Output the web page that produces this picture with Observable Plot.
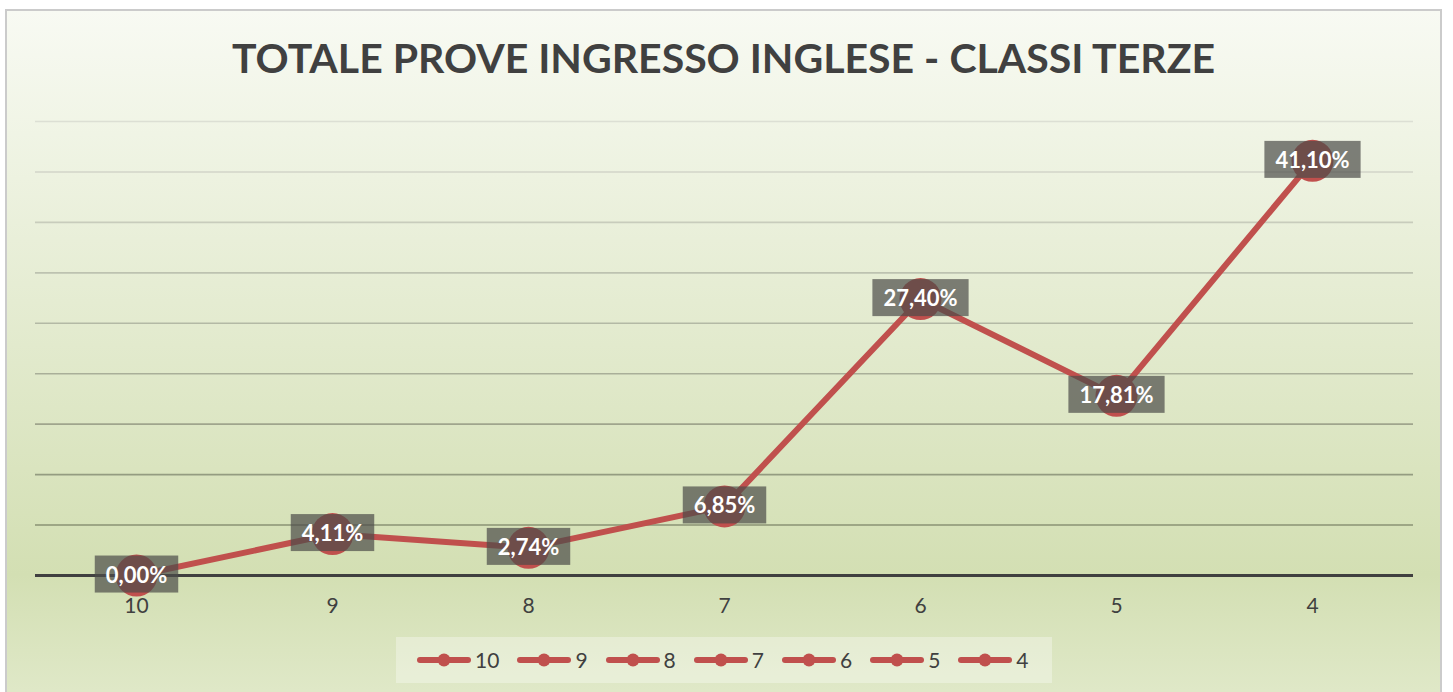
<!DOCTYPE html>
<html>
<head>
<meta charset="utf-8">
<script src="https://cdn.jsdelivr.net/npm/d3@7"></script>
<script src="https://cdn.jsdelivr.net/npm/@observablehq/plot@0.6"></script>
<style>
  body { margin:0; background:#ffffff; width:1453px; height:692px; overflow:hidden; position:relative; font-family:Lato, "Open Sans", sans-serif; }
  #frame { position:absolute; left:5px; top:9px; width:1433px; height:700px; border:2px solid #cbcbcb;
    background:linear-gradient(to bottom, #f8faf3 0%, #d3dfb3 80.5%, #dfe8c7 97%, #e2eacb 100%); }
  #title { position:absolute; left:5px; width:1437px; top:37px; text-align:center; font-weight:700; font-size:41px; line-height:41px; color:#404040; white-space:nowrap; }
  #chart { position:absolute; left:0; top:0; }
  #legend { position:absolute; left:396px; top:637px; width:656px; height:46px; background:rgba(255,255,255,0.32);
    display:flex; align-items:center; padding-left:20px; box-sizing:border-box; }
  .item { display:flex; align-items:center; margin-right:17px; }
  .item svg { display:block; }
  .item span { margin-left:3px; font-size:21px; color:#404040; line-height:22px; }
</style>
</head>
<body>
<div id="frame"></div>
<div id="title"></div>
<div id="chart"></div>
<div id="legend"></div>
<script>
const titleText = "TOTALE PROVE INGRESSO INGLESE - CLASSI TERZE";
const categories = ["10", "9", "8", "7", "6", "5", "4"];
const values = [0.00, 4.11, 2.74, 6.85, 27.40, 17.81, 41.10];
const gridTicks = [5, 10, 15, 20, 25, 30, 35, 40, 45];

const data = categories.map((c, i) => ({cat: c, value: values[i]}));
const fmt = v => v.toFixed(2).replace(".", ",") + "%";

document.getElementById("title").textContent = titleText;

const lineColor = "#c0504d";

const chart = Plot.plot({
  width: 1453,
  height: 692,
  marginTop: 121,
  marginBottom: 117,
  marginLeft: 35,
  marginRight: 40,
  style: {background: "transparent", fontFamily: "Lato, 'Open Sans', sans-serif", overflow: "visible"},
  x: {type: "point", domain: categories, padding: 0.5, align: 0.5, label: null, tickSize: 0, tickPadding: 24},
  y: {domain: [0, 45], axis: null},
  color: {type: "linear", domain: [5, 45], range: ["#8a9275", "#dcdfd4"], legend: false},
  marks: [
    Plot.ruleY(gridTicks, {y: d => d, stroke: d => d, strokeWidth: 1.6}),
    Plot.ruleY([0], {stroke: "#404040", strokeWidth: 3}),
    Plot.axisX({tickSize: 0, tickPadding: 23, fontSize: 21, fill: "#404040", label: null}),
    Plot.line(data, {x: "cat", y: "value", stroke: lineColor, strokeWidth: 6, strokeLinejoin: "round"}),
    Plot.dot(data, {x: "cat", y: "value", r: 21, fill: lineColor}),
    Plot.text(data, {x: "cat", y: "value", text: d => fmt(d.value), fill: "white", fontWeight: "bold", fontSize: 22, className: "lbl"})
  ]
});
document.getElementById("chart").appendChild(chart);

// label backgrounds sized to the rendered text
const ns = "http://www.w3.org/2000/svg";
chart.querySelectorAll("g.lbl text").forEach(t => {
  const b = t.getBBox();
  const r = document.createElementNS(ns, "rect");
  const cy = b.y + b.height / 2;
  r.setAttribute("x", b.x - 11);
  r.setAttribute("width", b.width + 22);
  r.setAttribute("y", cy - 18.5);
  r.setAttribute("height", 37);
  r.setAttribute("fill", "#4b4b48");
  r.setAttribute("fill-opacity", 0.7);
  const tr = t.getAttribute("transform");
  if (tr) r.setAttribute("transform", tr);
  t.parentNode.insertBefore(r, t);
});

// legend
const legend = document.getElementById("legend");
categories.forEach(c => {
  const item = document.createElement("div");
  item.className = "item";
  const svg = d3.create("svg").attr("width", 56).attr("height", 16);
  svg.append("line").attr("x1", 4).attr("x2", 52).attr("y1", 8).attr("y2", 8)
    .attr("stroke", lineColor).attr("stroke-width", 6).attr("stroke-linecap", "round");
  svg.append("circle").attr("cx", 28).attr("cy", 8).attr("r", 6.5).attr("fill", lineColor);
  item.appendChild(svg.node());
  const s = document.createElement("span");
  s.textContent = c;
  item.appendChild(s);
  legend.appendChild(item);
});
</script>
</body>
</html>
